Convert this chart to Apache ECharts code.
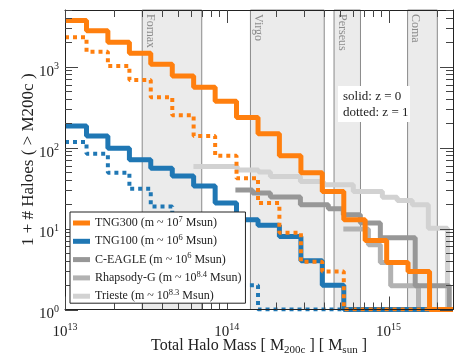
<!DOCTYPE html>
<html>
<head>
<meta charset="utf-8">
<title>Halo mass function</title>
<script src="https://cdn.jsdelivr.net/npm/echarts@6/dist/echarts.min.js"></script>
<style>
  html, body { margin: 0; padding: 0; background: #fff; }
  #chart { width: 469px; height: 362px; }
</style>
</head>
<body>
<div id="chart"></div>
<script>
// log10 of the bin edges used by the TNG curves
const binEdgesLog = [13.000, 13.133, 13.265, 13.398, 13.530, 13.663, 13.795, 13.928, 14.060,
                     14.193, 14.325, 14.458, 14.590, 14.723, 14.855, 14.988, 15.120, 15.253];

const tng300Z0 = [3700, 2780, 2000, 1460, 1070, 767, 557, 372, 235, 148, 79, 49, 28.6, 12.8, 7.1, 3.8, 2.94, 1];
const tng300Z1 = [2310, 1530, 1020, 685, 419, 250, 139, 79, 41.9, 20.6, 8.9, 3.9, 2.94, 1, 1, 1, 1, 1];
const tng100Z0 = [185, 139, 98, 70.5, 55.7, 44.7, 33.6, 20.6, 12.8, 11, 8, 4, 2, 1, 1, 1, 1, 1];
const tng100Z1 = [117, 83.6, 49, 30.9, 18.7, 12, 7, 4, 2, 1, 1, 1, 1, 1, 1, 1, 1, 1];

const ceagleMass  = [1.13e14, 1.44e14, 1.86e14, 2.85e14, 4.24e14, 5.25e14, 6.69e14, 8.89e14, 1.46e15, 2.37e15];
const ceagleCount = [30, 27.4, 24.6, 19.6, 17.5, 14.8, 11.7, 7.7, 1.96, 1];

const rhapsodyMass  = [5.25e14, 7.5e14, 8.89e14, 1.03e15, 1.53e15];
const rhapsodyCount = [9.9, 6.3, 3.8, 1.96, 1];

const triesteMass  = [6.22e13, 1.16e14, 1.57e14, 1.86e14, 2.85e14, 3.95e14, 6.05e14, 9.15e14, 1.13e15, 1.40e15, 1.76e15, 2.31e15];
const triesteCount = [58.3, 53, 50, 43.9, 38, 34.7, 28.6, 24.4, 22.2, 19.6, 10.1, 1];

// clusters shown as shaded mass ranges
const clusterNames = ['Fornax', 'Virgo', 'Perseus', 'Coma'];
const clusterLow   = [3.0e13, 1.4e14, 4.6e14, 1.31e15];
const clusterHigh  = [7.0e13, 4.0e14, 6.7e14, 2.0e15];

const legendNames = ['TNG300', 'TNG100', 'C-EAGLE', 'Rhapsody-G', 'Trieste'];
const legendRes   = ['7', '6', '6', '8.4', '8.3'];

const xMin = 1e13, xMax = 2.5e15, yMin = 1, yMax = 5000;
const xMajor = [1e13, 1e14, 1e15];
const yMajor = [1, 10, 100, 1000];
const mantissas = [2, 3, 4, 5, 6, 7, 8, 9];

const FONT = '"Liberation Serif", "DejaVu Serif", serif';
const INK = '#222';

function minorTicks(decades, max) {
    const out = [];
    decades.forEach(d => mantissas.forEach(m => { if (m * d <= max) out.push(m * d); }));
    return out;
}
const xMinor = minorTicks(xMajor, xMax);
const yMinor = minorTicks(yMajor, yMax);

function binnedSteps(values) {
    const pts = values.map((v, i) => [Math.pow(10, binEdgesLog[i]), v]);
    pts.push([xMax, values[values.length - 1]]);
    return pts;
}
function pairedSteps(xs, ys) {
    const pts = xs.map((x, i) => [x, ys[i]]);
    pts.push([xMax, ys[ys.length - 1]]);
    return pts;
}

const powRich = {
    b: { fontFamily: FONT, fontSize: 15, color: INK, lineHeight: 20 },
    s: { fontFamily: FONT, fontSize: 10, color: INK, lineHeight: 10, verticalAlign: 'top' }
};
function powLabel(v) {
    return '{b|10}{s|' + Math.round(Math.log10(v)) + '}';
}

function lineSeries(name, data, color, dotted, z) {
    return {
        type: 'line',
        name: name,
        data: data,
        step: 'end',
        symbol: 'none',
        z: z,
        animation: false,
        silent: true,
        lineStyle: { color: color, width: dotted ? 4 : 5, type: dotted ? [4, 4] : 'solid', cap: 'butt' },
        itemStyle: { color: color }
    };
}

function frameAxis(dim, position) {
    return {
        type: 'log',
        logBase: 10,
        position: position,
        min: dim === 'x' ? xMin : yMin,
        max: dim === 'x' ? xMax : yMax,
        z: 10,
        splitLine: { show: false },
        axisLine: { show: true, lineStyle: { color: INK, width: 1 } },
        axisTick: { show: false },
        axisLabel: { show: false }
    };
}

const chart = echarts.init(document.getElementById('chart'), null, { renderer: 'canvas' });

const gridRect = { left: 65, top: 10, width: 388, height: 299.5 };

const xBottom = Object.assign(frameAxis('x', 'bottom'), {
    axisLabel: { show: true, customValues: xMajor, formatter: powLabel, rich: powRich, margin: 13 }
});
const yLeft = Object.assign(frameAxis('y', 'left'), {
    axisLabel: { show: true, customValues: yMajor, formatter: powLabel, rich: powRich, margin: 6, padding: [10, 0, 0, 0] }
});

const series = [
    {
        type: 'line', name: 'bands', data: [[xMin, yMin]], z: 1, symbol: 'none', silent: true,
        lineStyle: { opacity: 0 },
        markArea: {
            silent: true,
            itemStyle: { color: '#ebebeb', borderColor: '#8a8a8a', borderWidth: 1 },
            data: clusterNames.map((n, i) => [{ xAxis: clusterLow[i] }, { xAxis: clusterHigh[i] }])
        }
    },
    lineSeries('Trieste', pairedSteps(triesteMass, triesteCount), '#d2d2d2', false, 2),
    lineSeries('Rhapsody-G', pairedSteps(rhapsodyMass, rhapsodyCount), '#b2b2b2', false, 2),
    lineSeries('C-EAGLE', pairedSteps(ceagleMass, ceagleCount), '#979797', false, 2),
    lineSeries('TNG100 z=1', binnedSteps(tng100Z1), '#1f77b4', true, 3),
    lineSeries('TNG100', binnedSteps(tng100Z0), '#1f77b4', false, 3),
    lineSeries('TNG300 z=1', binnedSteps(tng300Z1), '#ff7f0e', true, 3),
    lineSeries('TNG300', binnedSteps(tng300Z0), '#ff7f0e', false, 3)
];

const legendRich = {
    n: { fontFamily: FONT, fontSize: 12, color: INK, lineHeight: 16 },
    s: { fontFamily: FONT, fontSize: 8.5, color: INK, lineHeight: 9, verticalAlign: 'top' }
};

const option = {
    animation: false,
    backgroundColor: '#fff',
    grid: Object.assign({ containLabel: false }, gridRect),
    xAxis: [xBottom, frameAxis('x', 'top')],
    yAxis: [yLeft, frameAxis('y', 'right')],
    legend: {
        data: legendNames,
        orient: 'vertical',
        left: 70,
        top: 212,
        icon: 'rect',
        itemWidth: 17,
        itemHeight: 5,
        itemGap: 4.3,
        padding: [3, 4, 1, 3],
        backgroundColor: '#fff',
        borderColor: INK,
        borderWidth: 1,
        borderRadius: 0,
        selectedMode: false,
        z: 20,
        textStyle: { fontFamily: FONT, fontSize: 12, color: INK, rich: legendRich },
        formatter: function (name) {
            const i = legendNames.indexOf(name);
            return '{n|' + name + ' (m ~ 10}{s|' + legendRes[i] + '}{n| Msun)}';
        }
    },
    series: series
};

chart.setOption(option);

// everything below is placed through the axis scales
const xPx = v => chart.convertToPixel({ xAxisIndex: 0 }, v);
const yPx = v => chart.convertToPixel({ yAxisIndex: 0 }, v);
const pLeft = xPx(xMin), pRight = xPx(xMax), pTop = yPx(yMax), pBottom = yPx(yMin);

function tickLine(x1, y1, x2, y2) {
    return { type: 'line', z: 15, silent: true, shape: { x1: x1, y1: y1, x2: x2, y2: y2 }, style: { stroke: '#444', lineWidth: 1 } };
}
const ticks = [];
[[xMajor, 13], [xMinor, 7]].forEach(([vals, len]) => vals.forEach(v => {
    const x = Math.round(xPx(v)) + 0.5;
    ticks.push(tickLine(x, pBottom, x, pBottom - len), tickLine(x, pTop, x, pTop + len));
}));
[[yMajor, 13], [yMinor, 7]].forEach(([vals, len]) => vals.forEach(v => {
    const y = Math.round(yPx(v)) + 0.5;
    ticks.push(tickLine(pLeft, y, pLeft + len, y), tickLine(pRight, y, pRight - len, y));
}));

const bandLabels = clusterNames.map((n, i) => ({
    type: 'text',
    x: xPx(clusterLow[i]) + 2,
    y: pTop + 4,
    rotation: -Math.PI / 2,
    z: 5,
    silent: true,
    style: { text: n, fill: '#8c8c8c', font: '12px ' + FONT, align: 'left', verticalAlign: 'bottom' }
}));

const axisNames = [
    {
        type: 'text', x: (pLeft + pRight) / 2, y: 346, z: 5, silent: true,
        style: {
            text: 'Total Halo Mass [ M{sub|200c} ] [ M{sub|sun} ]',
            font: '16px ' + FONT, fill: INK, align: 'center', verticalAlign: 'middle',
            rich: { sub: { font: '11px ' + FONT, fill: INK, padding: [9, 0, 0, 0] } }
        }
    },
    {
        type: 'text', x: 28.5, y: (pTop + pBottom) / 2, z: 5, silent: true,
        rotation: Math.PI / 2,
        style: { text: '1 + # Haloes ( > M200c )', font: '17px ' + FONT, fill: INK, align: 'center', verticalAlign: 'middle' }
    }
];

const note = [
    { type: 'rect', x: 338, y: 86, z: 20, silent: true, shape: { x: 0, y: 0, width: 72, height: 36 }, style: { fill: '#fff' } },
    { type: 'text', x: 343, y: 90, z: 21, silent: true, style: { text: 'solid: z = 0', fill: INK, font: '13px ' + FONT } },
    { type: 'text', x: 343, y: 106, z: 21, silent: true, style: { text: 'dotted: z = 1', fill: INK, font: '13px ' + FONT } }
];

chart.setOption({ graphic: ticks.concat(bandLabels, axisNames, note) });

window.addEventListener('resize', function () {
    chart.resize();
});
</script>
</body>
</html>
